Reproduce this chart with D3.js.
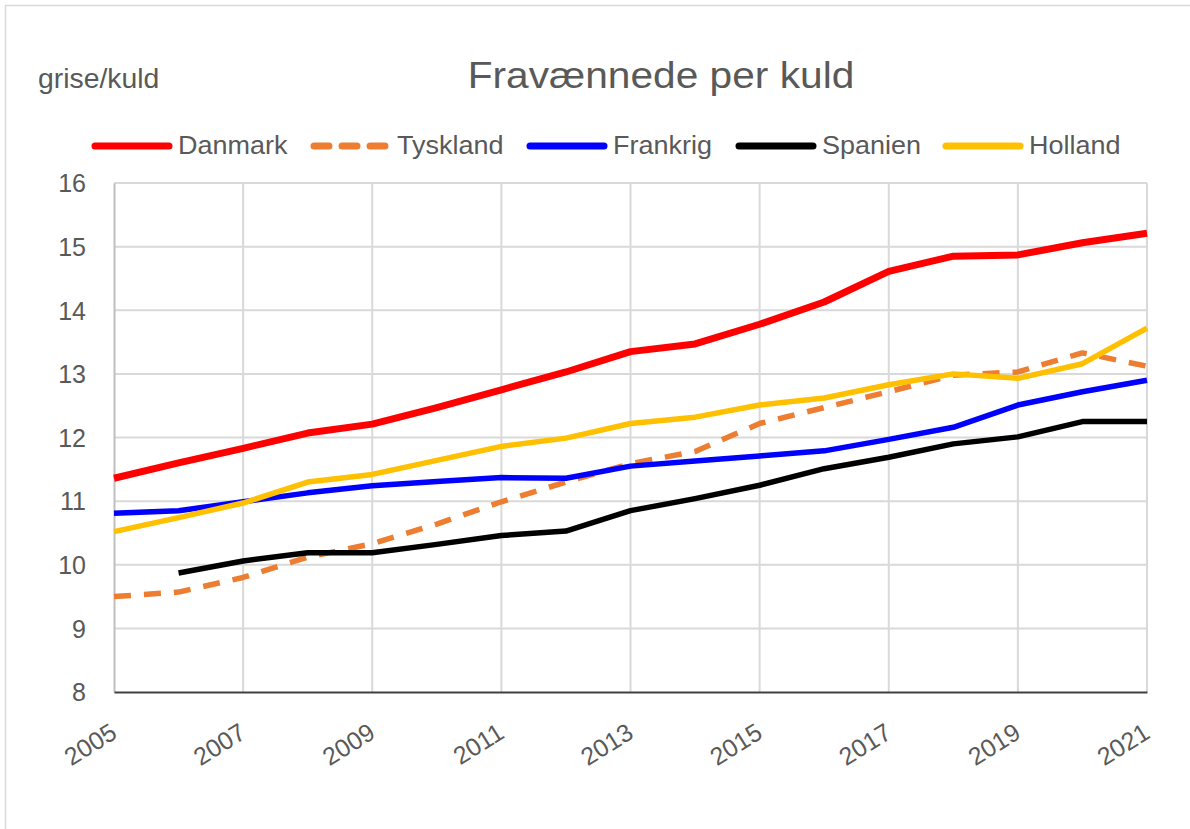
<!DOCTYPE html>
<html>
<head>
<meta charset="utf-8">
<script src="https://cdn.jsdelivr.net/npm/d3@7"></script>
<style>
  body { margin: 0; background: #fff; }
  text { font-family: "Liberation Sans", Arial, sans-serif; fill: #595959; }
</style>
</head>
<body>
<div id="chart"></div>
<script>
// data
var years = [2005, 2006, 2007, 2008, 2009, 2010, 2011, 2012, 2013, 2014, 2015, 2016, 2017, 2018, 2019, 2020, 2021];
var danmark  = [11.36, 11.60, 11.83, 12.07, 12.21, 12.47, 12.75, 13.03, 13.35, 13.47, 13.78, 14.13, 14.61, 14.85, 14.87, 15.06, 15.21];
var tyskland = [9.50, 9.57, 9.80, 10.12, 10.33, 10.64, 10.99, 11.30, 11.59, 11.78, 12.22, 12.47, 12.72, 12.98, 13.03, 13.33, 13.12];
var frankrig = [10.81, 10.85, 10.99, 11.13, 11.24, 11.31, 11.37, 11.36, 11.55, 11.63, 11.71, 11.79, 11.97, 12.16, 12.51, 12.72, 12.90];
var spanien  = [null, 9.87, 10.06, 10.19, 10.19, 10.32, 10.46, 10.53, 10.85, 11.04, 11.25, 11.51, 11.69, 11.90, 12.01, 12.25, 12.25];
var holland  = [10.52, 10.74, 10.97, 11.30, 11.42, 11.64, 11.86, 11.99, 12.22, 12.32, 12.51, 12.62, 12.83, 13.00, 12.93, 13.16, 13.72];
var seriesNames = ["Danmark", "Tyskland", "Frankrig", "Spanien", "Holland"];
var xTicks = [2005, 2007, 2009, 2011, 2013, 2015, 2017, 2019, 2021];
var yTicks = [8, 9, 10, 11, 12, 13, 14, 15, 16];

var series = [
  {name: seriesNames[0], values: danmark,  color: "#ff0000", width: 7},
  {name: seriesNames[1], values: tyskland, color: "#ed7d31", width: 5.5, dash: "17,13"},
  {name: seriesNames[2], values: frankrig, color: "#0000ff", width: 5.5},
  {name: seriesNames[3], values: spanien,  color: "#000000", width: 5.5},
  {name: seriesNames[4], values: holland,  color: "#ffc000", width: 5.5}
];

var W = 1190, H = 829;
var margin = {top: 183, right: 43, bottom: 137, left: 114},
    width = W - margin.left - margin.right,
    height = H - margin.top - margin.bottom;

var svg = d3.select("#chart").append("svg")
    .attr("width", W)
    .attr("height", H);

// outer frame
svg.append("rect")
  .attr("x", 5.5).attr("y", 5.5)
  .attr("width", W).attr("height", H)
  .attr("fill", "none")
  .attr("stroke", "#d9d9d9")
  .attr("stroke-width", 1.5);

var g = svg.append("g")
  .attr("transform", "translate(" + margin.left + "," + margin.top + ")");

var x = d3.scaleLinear().domain([2005, 2021]).range([0, width]);
var y = d3.scaleLinear().domain([8, 16]).range([height, 0]);

// gridlines
g.selectAll(".hgrid")
  .data(yTicks.slice(1))
  .enter().append("line")
    .attr("x1", 0).attr("x2", width)
    .attr("y1", function(d) { return y(d); })
    .attr("y2", function(d) { return y(d); })
    .attr("stroke", "#d9d9d9")
    .attr("stroke-width", 2);

g.selectAll(".vgrid")
  .data(xTicks.slice(1))
  .enter().append("line")
    .attr("y1", 0).attr("y2", height)
    .attr("x1", function(d) { return x(d); })
    .attr("x2", function(d) { return x(d); })
    .attr("stroke", "#d9d9d9")
    .attr("stroke-width", 2);

// y axis
var yAxis = g.append("g")
  .call(d3.axisLeft(y).tickValues(yTicks).tickSize(0).tickPadding(28).tickFormat(d3.format("d")));
yAxis.select(".domain").attr("stroke", "#bfbfbf").attr("stroke-width", 2);
yAxis.selectAll("text")
  .attr("font-size", "25px")
  .attr("dy", "0.35em")
  .style("font-family", "'Liberation Sans', Arial, sans-serif")
  .attr("fill", "#595959");

// x axis
var xAxis = g.append("g")
  .attr("transform", "translate(0," + height + ")")
  .call(d3.axisBottom(x).tickValues(xTicks).tickSize(0).tickFormat(d3.format("d")));
xAxis.select(".domain").attr("stroke", "#404040").attr("stroke-width", 2);
xAxis.selectAll("text")
  .attr("font-size", "25px")
  .style("font-family", "'Liberation Sans', Arial, sans-serif")
  .attr("fill", "#595959")
  .attr("text-anchor", "end")
  .attr("y", 0)
  .attr("dy", 0)
  .attr("transform", "translate(4,45) rotate(-32)");

// lines
var line = d3.line()
  .defined(function(d) { return d != null; })
  .x(function(d, i) { return x(years[i]); })
  .y(function(d) { return y(d); });

series.forEach(function(s) {
  g.append("path")
    .datum(s.values)
    .attr("fill", "none")
    .attr("stroke", s.color)
    .attr("stroke-width", s.width)
    .attr("stroke-linejoin", "round")
    .attr("stroke-dasharray", s.dash || null)
    .attr("d", line);
});

// title + unit label
svg.append("text")
  .attr("transform", "translate(661,88) scale(1.13,1)")
  .attr("text-anchor", "middle")
  .attr("font-size", "36px")
  .text("Fravænnede per kuld");

svg.append("text")
  .attr("transform", "translate(38,88) scale(1.05,1)")
  .attr("font-size", "27px")
  .text("grise/kuld");

// legend
var legendX = [92, 311, 527, 736, 943];
var leg = svg.selectAll(".legend")
  .data(series)
  .enter().append("g")
    .attr("transform", function(d, i) { return "translate(" + legendX[i] + ",146)"; });

leg.append("line")
  .attr("x1", 3).attr("x2", 77)
  .attr("stroke", function(d) { return d.color; })
  .attr("stroke-width", 7)
  .attr("stroke-linecap", "round")
  .attr("stroke-dasharray", function(d) { return d.dash ? "15,13" : null; });

leg.append("text")
  .attr("transform", "translate(86,8) scale(1.08,1)")
  .attr("font-size", "25px")
  .text(function(d) { return d.name; });
</script>
</body>
</html>
